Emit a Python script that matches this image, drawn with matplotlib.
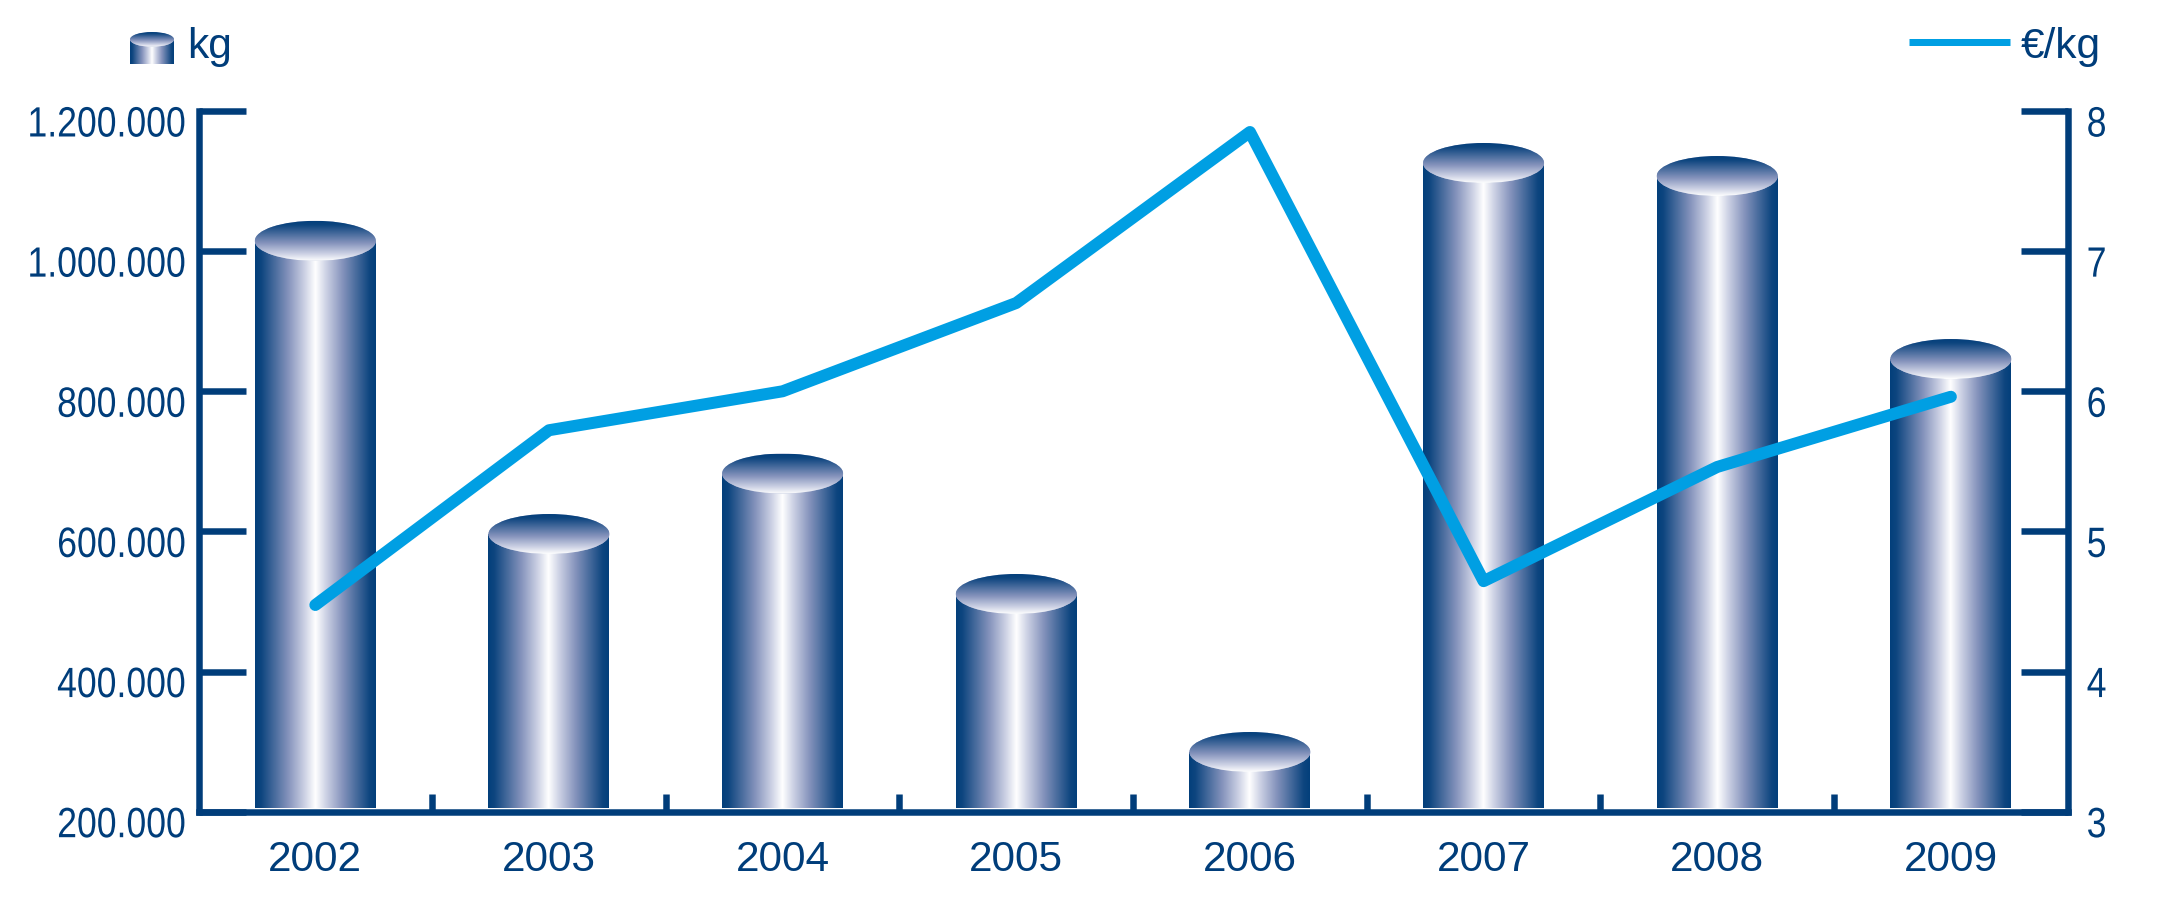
import numpy as np
import matplotlib
matplotlib.use("Agg")
import matplotlib.pyplot as plt
from matplotlib.colors import LinearSegmentedColormap
from matplotlib.lines import Line2D
from matplotlib.patches import Ellipse
from matplotlib.patheffects import AbstractPathEffect
from matplotlib.transforms import Affine2D, ScaledTranslation

years = ["2002", "2003", "2004", "2005", "2006", "2007", "2008", "2009"]
kg_values = [1014700, 596300, 682600, 510700, 285200, 1125800, 1107200, 846000]
eur_per_kg = [4.475, 5.722, 6.00, 6.63, 7.85, 4.645, 5.46, 5.961]
left_ticks = [200000, 400000, 600000, 800000, 1000000, 1200000]
left_labels = ["200.000", "400.000", "600.000", "800.000", "1.000.000", "1.200.000"]
right_ticks = [3, 4, 5, 6, 7, 8]
right_labels = ["3", "4", "5", "6", "7", "8"]

W, H, DPI = 2175, 901, 100
NAVY = "#003d7a"
CYAN = "#009fe3"
px = 72 / DPI
FONT = "Liberation Sans"
plt.rcParams["font.family"] = FONT


class Condense(AbstractPathEffect):
    """Squeeze glyphs horizontally about a fixed pixel column; the label stays a Text."""

    def __init__(self, sx, anchor):
        super().__init__()
        self.sx, self.anchor = sx, anchor

    def draw_path(self, renderer, gc, tpath, affine, rgbFace=None):
        squeeze = Affine2D().translate(-self.anchor, 0).scale(self.sx, 1).translate(self.anchor, 0)
        renderer.draw_path(gc, tpath, affine + squeeze, rgbFace)


cmap = LinearSegmentedColormap.from_list(
    "cyl",
    [(0, "#033f7b"), (0.1, "#0d457f"), (0.55, "#8593bc"), (0.82, "#ccd1e4"), (1, "#ffffff")],
)
t = np.linspace(0, 1, 256)
horiz = (1 - np.abs(2 * t - 1)).reshape(1, -1)
vert = t.reshape(-1, 1)

fig = plt.figure(figsize=(W / DPI, H / DPI), dpi=DPI, facecolor="white")
L, R, T, B = 198.5, 2067.7, 111.0, 811.7
ax = fig.add_axes([L / W, (H - B) / H, (R - L) / W, (B - T) / H])
ymin, ymax = 200000, 1200000
per_px = (ymax - ymin) / (B - T)
baseline = ymin + 4 * per_px
bw = 121 / ((R - L) / 8)
ell_h = 40 * per_px

x = np.arange(len(years))
ax.bar(x, np.array(kg_values) - baseline, bottom=baseline, width=bw, color=NAVY, zorder=1, label="kg")
for xi, v in zip(x, kg_values):
    ax.imshow(horiz, extent=(xi - bw / 2, xi + bw / 2, baseline, v), aspect="auto",
              cmap=cmap, vmin=0, vmax=1, interpolation="bilinear", zorder=2)
    e = Ellipse((xi, v), bw, ell_h, facecolor="#9aa6ca", edgecolor="none", zorder=3)
    ax.add_patch(e)
    im = ax.imshow(vert, extent=(xi - bw / 2, xi + bw / 2, v - ell_h / 2, v + ell_h / 2),
                   aspect="auto", origin="upper", cmap=cmap, vmin=0, vmax=1,
                   interpolation="bilinear", zorder=4)
    im.set_clip_path(e)

ax.set_xlim(-0.5, len(years) - 0.5)
ax.set_ylim(ymin, ymax)

ax.set_xticks(x)
ax.set_xticklabels(years, fontsize=30.5, color=NAVY, family=FONT)
ax.tick_params(axis="x", which="major", length=0, pad=20.5)
ax.set_xticks(x[:-1] + 0.5, minor=True)
ax.tick_params(axis="x", which="minor", direction="in", length=18 * px, width=6.5 * px, color=NAVY)

LEFT_PAD, RIGHT_PAD = 13, 19
ax.set_yticks(left_ticks)
ax.set_yticklabels(left_labels, fontsize=30.5, color=NAVY, family=FONT)
ax.tick_params(axis="y", direction="in", length=47 * px, width=6.5 * px, color=NAVY, pad=LEFT_PAD * px)
shift = ScaledTranslation(0, -10 / DPI, fig.dpi_scale_trans)
for lab in ax.get_yticklabels():
    lab.set_transform(lab.get_transform() + shift)
    lab.set_path_effects([Condense(0.84, L - LEFT_PAD)])

for s in ("top", "right"):
    ax.spines[s].set_visible(False)
for s in ("left", "bottom"):
    ax.spines[s].set_linewidth(6.5 * px)
    ax.spines[s].set_color(NAVY)
    ax.spines[s].set_zorder(6)

ax2 = ax.twinx()
ax2.patch.set_visible(False)
ax2.plot(x, eur_per_kg, color=CYAN, lw=12 * px, solid_capstyle="round",
         solid_joinstyle="round", zorder=5, label="€/kg")
ax2.set_ylim(3, 8)
ax2.set_yticks(right_ticks)
ax2.set_yticklabels(right_labels, fontsize=30.5, color=NAVY, family=FONT)
ax2.tick_params(axis="y", direction="in", length=47 * px, width=6.5 * px, color=NAVY, pad=RIGHT_PAD * px)
for lab in ax2.get_yticklabels():
    lab.set_transform(lab.get_transform() + shift)
    lab.set_path_effects([Condense(0.84, R + RIGHT_PAD)])
for s in ("top", "left", "bottom"):
    ax2.spines[s].set_visible(False)
ax2.spines["right"].set_linewidth(6.5 * px)
ax2.spines["right"].set_color(NAVY)

# legend: small cylinder + "kg"
lax = fig.add_axes([130 / W, (H - 64) / H, 44 / W, 32 / H])
lax.axis("off")
lax.imshow(horiz, extent=(0, 1, 0, 24.6), aspect="auto", cmap=cmap, vmin=0, vmax=1,
           interpolation="bilinear", zorder=1)
le = Ellipse((0.5, 24.6), 1, 14.8, facecolor="#9aa6ca", edgecolor="none", zorder=2)
lax.add_patch(le)
lim = lax.imshow(vert, extent=(0, 1, 17.2, 32), aspect="auto", origin="upper", cmap=cmap,
                 vmin=0, vmax=1, interpolation="bilinear", zorder=3)
lim.set_clip_path(le)
lax.set_xlim(0, 1)
lax.set_ylim(0, 32)

fig.text(187 / W, (H - 58) / H, "kg", fontsize=30.5, color=NAVY, va="baseline", ha="left")
fig.add_artist(Line2D([1909 / W, 2010 / W], [(H - 42.3) / H] * 2, transform=fig.transFigure,
                      color=CYAN, lw=7 * px, solid_capstyle="butt"))
fig.text(2021 / W, (H - 58) / H, "€/kg", fontsize=30.5, color=NAVY, va="baseline", ha="left")

fig.savefig("out.png", dpi=DPI, facecolor="white")
